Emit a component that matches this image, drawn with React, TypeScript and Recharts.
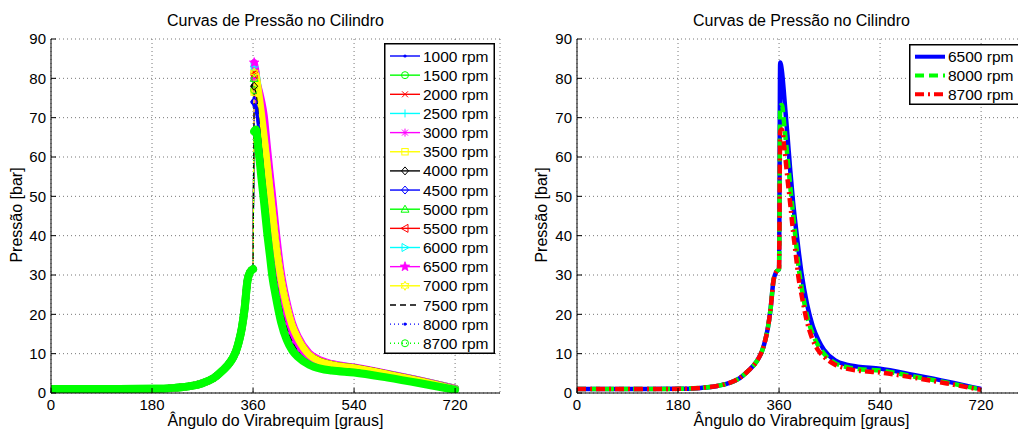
import { LineChart, Line, XAxis, YAxis, CartesianGrid, Legend } from 'recharts';

const FONT = '"Liberation Sans", Arial, Helvetica, sans-serif';

// eixos
const xTicks = [0, 180, 360, 540, 720];
const yTicks = [0, 10, 20, 30, 40, 50, 60, 70, 80, 90];

// admissão + compressão (praticamente igual em todas as rotações)
const compAngles = [0, 60, 120, 180, 220, 250, 270, 290, 305, 320, 325, 330, 335, 340, 345, 350, 355, 360];
const compPressure = [1.0, 1.0, 1.0, 1.05, 1.3, 1.8, 2.5, 3.8, 5.6, 8.0, 9.2, 10.8, 13.2, 16.5, 21.5, 28.5, 30.8, 31.5];

// combustão / expansão / exaustão
const expAngles = [362, 365, 370, 375, 380, 385, 390, 395, 400, 410, 420, 430, 440, 460, 480, 500, 540, 600, 660, 720];

const p1000 = [75, 74.5, 71, 66, 60.5, 54.5, 48, 42, 36, 27, 20.6, 16, 13, 9.2, 7.7, 6.9, 6.2, 4.6, 2.9, 1.1];
const p1500 = [77, 76.5, 73, 68, 62.5, 56, 49.5, 43, 37, 27.5, 21, 16.3, 13.2, 9.4, 7.8, 7.0, 6.3, 4.7, 3.0, 1.1];
const p2000 = [81.5, 80.5, 76, 70.5, 64.5, 58, 51.5, 45, 38.5, 28.5, 21.8, 16.8, 13.6, 9.6, 8.0, 7.2, 6.4, 4.8, 3.0, 1.1];
const p2500 = [83, 81.5, 77, 72, 66.5, 60, 53.5, 47, 40, 29.5, 22.5, 17.2, 14, 9.9, 8.2, 7.4, 6.5, 4.9, 3.1, 1.1];
const p3000 = [80, 79.5, 77.5, 74.5, 70.5, 63.5, 56.5, 50, 43, 31, 23.5, 18, 14.5, 10.2, 8.4, 7.5, 6.6, 5.0, 3.2, 1.2];
const p3500 = [76.5, 76, 73, 69, 64, 58, 51.5, 45, 39, 29, 22.2, 17.1, 13.9, 9.8, 8.1, 7.3, 6.4, 4.8, 3.0, 1.1];
const p4000 = [78, 77.5, 74, 69, 63.5, 57, 50.5, 44, 38, 28.2, 21.6, 16.6, 13.5, 9.6, 8.0, 7.2, 6.4, 4.8, 3.0, 1.0];
const p4500 = [74, 73.5, 71, 67, 62, 56, 49.5, 43.5, 37.5, 27.8, 21.2, 16.4, 13.3, 9.4, 7.8, 7.0, 6.3, 4.7, 2.9, 1.0];
const p5000 = [80, 79, 74.5, 68.5, 62, 55, 48.5, 42, 36, 26.8, 20.5, 15.8, 12.8, 9.1, 7.6, 6.9, 6.3, 4.6, 2.9, 1.0];
const p5500 = [81, 80, 75, 68.5, 61.5, 54.5, 47.5, 41, 35.2, 26.2, 20, 15.5, 12.5, 8.9, 7.5, 6.8, 6.2, 4.6, 2.9, 1.0];
const p6000 = [83, 81.5, 75, 67.5, 60, 52.5, 45.5, 39, 33.5, 25, 19, 14.8, 12, 8.7, 7.4, 6.8, 6.2, 4.6, 2.9, 1.0];
const p6500 = [84, 82, 74, 65.5, 56.5, 48.5, 42, 36, 30.5, 22.5, 17, 13.5, 11, 8.3, 7.2, 6.7, 6.2, 4.6, 2.9, 1.0];
const p7000 = [81.5, 81, 76.5, 71, 65, 58.5, 52, 45.5, 38.8, 28.8, 22, 17, 13.8, 9.7, 8.0, 7.2, 6.4, 4.8, 3.0, 0.9];
const p7500 = [77.5, 76.5, 70, 62.5, 55, 48, 41, 35, 30, 22, 16.5, 13, 10.6, 8.0, 6.9, 6.4, 5.9, 4.4, 2.7, 0.9];
const p8000 = [73, 73.2, 67, 60, 52.5, 45.5, 38.5, 31.8, 27, 19.5, 15, 12, 10, 7.6, 6.6, 6.1, 5.7, 4.2, 2.6, 0.9];
const p8700 = [66.5, 67, 61.5, 54.5, 48, 41, 35, 29, 25, 18, 13.5, 10.8, 9.2, 7.2, 6.2, 5.7, 5.2, 3.9, 2.4, 0.8];

const rpmLabels = ['1000 rpm', '1500 rpm', '2000 rpm', '2500 rpm', '3000 rpm', '3500 rpm', '4000 rpm', '4500 rpm',
  '5000 rpm', '5500 rpm', '6000 rpm', '6500 rpm', '7000 rpm', '7500 rpm', '8000 rpm', '8700 rpm'];
const rpmValues = [p1000, p1500, p2000, p2500, p3000, p3500, p4000, p4500,
  p5000, p5500, p6000, p6500, p7000, p7500, p8000, p8700];

// estilo MATLAB
const colors = ['#0000ff', '#00ff00', '#ff0000', '#00ffff', '#ff00ff', '#ffff00', '#000000', '#0000ff',
  '#00ff00', '#ff0000', '#00ffff', '#ff00ff', '#ffff00', '#000000', '#0000ff', '#00ff00'];
const markers = ['point', 'circle', 'x', 'plus', 'star', 'square', 'diamond', 'diamond',
  'up', 'left', 'right', 'pentagram', 'hexagram', null, 'point', 'circle'];
const dashes = [undefined, undefined, undefined, undefined, undefined, undefined, undefined, undefined,
  undefined, undefined, undefined, undefined, undefined, '6 4', '1 3', '1 3'];

const toPoints = (angles: number[], values: number[]) => angles.map((a, i) => ({ a, p: values[i] }));
const compData = toPoints(compAngles, compPressure);

const starPath = (x: number, y: number, r: number, n: number) => {
  const pts: string[] = [];
  for (let k = 0; k < 2 * n; k++) {
    const rad = k % 2 === 0 ? r : r * (n === 5 ? 0.42 : 0.55);
    const ang = -Math.PI / 2 + (k * Math.PI) / n;
    pts.push(`${x + rad * Math.cos(ang)},${y + rad * Math.sin(ang)}`);
  }
  return `M${pts.join('L')}Z`;
};

const Marker = ({ kind, x, y, color }: { kind: string | null; x: number; y: number; color: string }) => {
  const s = 3.5;
  const common = { fill: 'none', stroke: color, strokeWidth: 1 };
  switch (kind) {
    case 'point':
      return <circle cx={x} cy={y} r={1.6} fill={color} />;
    case 'circle':
      return <circle cx={x} cy={y} r={s} {...common} />;
    case 'x':
      return <path d={`M${x - 3},${y - 3}L${x + 3},${y + 3}M${x - 3},${y + 3}L${x + 3},${y - 3}`} {...common} />;
    case 'plus':
      return <path d={`M${x - 4},${y}L${x + 4},${y}M${x},${y - 4}L${x},${y + 4}`} {...common} />;
    case 'star':
      return <path d={`M${x - 4},${y}L${x + 4},${y}M${x},${y - 4}L${x},${y + 4}M${x - 3},${y - 3}L${x + 3},${y + 3}M${x - 3},${y + 3}L${x + 3},${y - 3}`} {...common} />;
    case 'square':
      return <rect x={x - 3.2} y={y - 3.2} width={6.4} height={6.4} {...common} />;
    case 'diamond':
      return <path d={`M${x},${y - 4}L${x + 3.5},${y}L${x},${y + 4}L${x - 3.5},${y}Z`} {...common} />;
    case 'up':
      return <path d={`M${x},${y - 4}L${x + 4},${y + 3}L${x - 4},${y + 3}Z`} {...common} />;
    case 'left':
      return <path d={`M${x - 4},${y}L${x + 3},${y - 4}L${x + 3},${y + 4}Z`} {...common} />;
    case 'right':
      return <path d={`M${x + 4},${y}L${x - 3},${y - 4}L${x - 3},${y + 4}Z`} {...common} />;
    case 'pentagram':
      return <path d={starPath(x, y, 5, 5)} fill={color} stroke={color} strokeWidth={0.8} />;
    case 'hexagram':
      return <path d={starPath(x, y, 4.5, 6)} {...common} />;
    default:
      return null;
  }
};

const bandWidth = (kind: string | null) => (kind === null ? 1.2 : kind === 'point' ? 3 : kind === 'circle' ? 8 : 7);

const leftSeries = rpmLabels.map((label, i) => ({
  label,
  color: colors[i],
  marker: markers[i],
  dash: dashes[i],
  exp: toPoints(expAngles, rpmValues[i]),
  jump: [compData[compData.length - 1], { a: expAngles[0], p: rpmValues[i][0] }],
}));

// gráfico da direita
const rightLabels = ['6500 rpm', '8000 rpm', '8700 rpm'];
const rightValues = [p6500, p8000, p8700];
const rightColors = ['#0000ff', '#00ff00', '#ff0000'];
const rightDashes = [undefined, '9 5', '9 4 2 4'];
const rightSeries = rightLabels.map((label, i) => ({
  label,
  color: rightColors[i],
  dash: rightDashes[i],
  data: [...compData, ...toPoints(expAngles, rightValues[i])],
}));

const tickStyle = { fontSize: 15, fill: '#000', fontFamily: FONT };

const LeftLegend = () => (
  <svg width={111} height={311} style={{ display: 'block' }}>
    <rect x={0.75} y={0.75} width={109.5} height={309.5} fill="#fff" stroke="#000" strokeWidth={1.5} />
    {leftSeries.map((s, i) => {
      const cy = 13 + i * 19.15;
      return (
        <g key={s.label}>
          <line x1={6} x2={36} y1={cy} y2={cy} stroke={s.color} strokeWidth={1.4} strokeDasharray={s.dash} />
          <Marker kind={s.marker} x={21} y={cy} color={s.color} />
          <text x={39} y={cy} dy="0.36em" fontSize={15.5} fontFamily={FONT} fill="#000">{s.label}</text>
        </g>
      );
    })}
  </svg>
);

const RightLegend = () => (
  <svg width={111} height={61} style={{ display: 'block' }}>
    <rect x={0.75} y={0.75} width={109.5} height={59.5} fill="#fff" stroke="#000" strokeWidth={1.5} />
    {rightSeries.map((s, i) => {
      const cy = 12.7 + i * 18.8;
      return (
        <g key={s.label}>
          <line x1={6} x2={36} y1={cy} y2={cy} stroke={s.color} strokeWidth={4} strokeDasharray={s.dash} />
          <text x={39} y={cy} dy="0.36em" fontSize={15.5} fontFamily={FONT} fill="#000">{s.label}</text>
        </g>
      );
    })}
  </svg>
);

const Axes = (yWidth: number) => [
  <CartesianGrid key="grid" stroke="#777" strokeDasharray="1 3" />,
  <XAxis
    key="x"
    type="number"
    dataKey="a"
    domain={[0, 800]}
    ticks={xTicks}
    interval={0}
    height={37}
    tickSize={-5}
    tickMargin={11}
    tick={tickStyle}
    axisLine={{ stroke: '#000' }}
    tickLine={{ stroke: '#000' }}
    allowDataOverflow
  />,
  <YAxis
    key="y"
    type="number"
    dataKey="p"
    domain={[0, 90]}
    ticks={yTicks}
    interval={0}
    width={yWidth}
    tickSize={-5}
    tickMargin={10}
    tick={tickStyle}
    axisLine={{ stroke: '#000' }}
    tickLine={{ stroke: '#000' }}
    allowDataOverflow
  />,
];

const App = () => {
  // marcadores muito densos no original: desenhados como faixa grossa, marcador só no pico
  const leftLines = leftSeries.flatMap((s, i) => {
    const w = bandWidth(s.marker);
    const peakDot = s.marker
      ? (props: any) =>
          props.index === 0 ? (
            <Marker key={`${i}-${props.index}`} kind={s.marker} x={props.cx} y={props.cy} color={s.color} />
          ) : (
            <g key={`${i}-${props.index}`} />
          )
      : false;
    const bandDash = s.marker ? undefined : s.dash;
    return [
      <Line key={`c${i}`} data={compData} dataKey="p" type="monotone" stroke={s.color} strokeWidth={w}
        strokeDasharray={bandDash} strokeLinecap="round" strokeLinejoin="round" dot={false} activeDot={false}
        isAnimationActive={false} />,
      <Line key={`j${i}`} data={s.jump} dataKey="p" type="linear" stroke={s.color} strokeWidth={1.2}
        strokeDasharray={s.dash} dot={false} activeDot={false} isAnimationActive={false} />,
      <Line key={`e${i}`} data={s.exp} dataKey="p" type="monotone" stroke={s.color} strokeWidth={w}
        strokeDasharray={bandDash} strokeLinecap="round" strokeLinejoin="round" dot={peakDot} activeDot={false}
        isAnimationActive={false} />,
    ];
  });

  return (
    <div style={{ position: 'absolute', left: 0, top: 0, width: 1018, height: 430, overflow: 'hidden', background: '#fff' }}>
      <div style={{ position: 'absolute', left: 0, top: 0 }}>
        <LineChart width={520} height={430} margin={{ top: 39, right: 20, bottom: 0, left: 0 }}>
          {Axes(51)}
          {leftLines}
          <Legend
            layout="vertical"
            align="center"
            verticalAlign="middle"
            content={() => <LeftLegend />}
            wrapperStyle={{ left: 384, top: 43, width: 111, height: 311 }}
          />
        </LineChart>
      </div>

      <div style={{ position: 'absolute', left: 520, top: 0 }}>
        <LineChart width={520} height={430} margin={{ top: 39, right: 14, bottom: 0, left: 0 }}>
          {Axes(57)}
          {rightSeries.map((s) => (
            <Line key={s.label} data={s.data} dataKey="p" type="monotone" stroke={s.color} strokeWidth={4.5}
              strokeDasharray={s.dash} dot={false} activeDot={false} isAnimationActive={false} />
          ))}
          <Legend
            layout="vertical"
            align="center"
            verticalAlign="middle"
            content={() => <RightLegend />}
            wrapperStyle={{ left: 389, top: 44, width: 111, height: 61 }}
          />
        </LineChart>
      </div>

      {/* títulos e rótulos dos eixos */}
      <svg width={1018} height={430} style={{ position: 'absolute', left: 0, top: 0, pointerEvents: 'none' }}>
        <g fontFamily={FONT} fill="#000" textAnchor="middle">
          <text x={275.5} y={26} fontSize={16}>Curvas de Pressão no Cilindro</text>
          <text x={801.5} y={26} fontSize={16}>Curvas de Pressão no Cilindro</text>
          <text x={275.5} y={426} fontSize={16}>Ângulo do Virabrequim [graus]</text>
          <text x={801.5} y={426} fontSize={16}>Ângulo do Virabrequim [graus]</text>
          <text transform="translate(21.6,215) rotate(-90)" fontSize={16}>Pressão [bar]</text>
          <text transform="translate(547,215) rotate(-90)" fontSize={16}>Pressão [bar]</text>
        </g>
      </svg>
    </div>
  );
};

export default App;
